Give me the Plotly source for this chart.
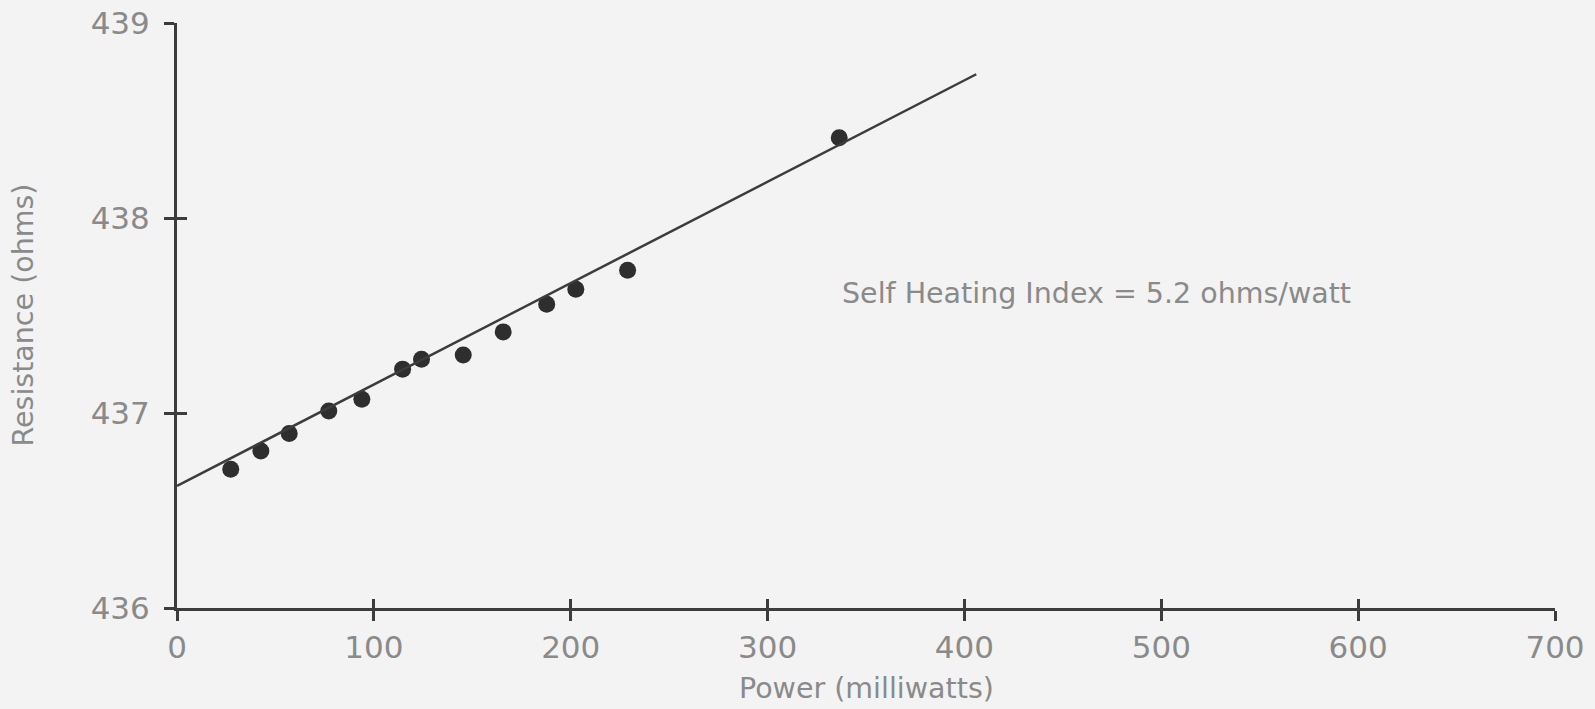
import plotly.graph_objects as go

# Measured resistance of the sensor versus dissipated power
power_mw = [27.3, 42.6, 57.0, 77.1, 93.9, 114.6, 124.2, 145.4, 165.7, 187.8, 202.6, 228.9, 336.4]
resistance_ohm = [436.711, 436.805, 436.895, 437.010, 437.070, 437.225, 437.276,
                  437.297, 437.416, 437.558, 437.635, 437.732, 438.411]

# Fit line: R = R0 + index * P
SELF_HEATING_INDEX = 5.2          # ohms per watt
R0 = 436.626                      # ohms at zero power
fit_power = [0, 406]
fit_resistance = [R0 + SELF_HEATING_INDEX * p / 1000.0 for p in fit_power]

x_ticks = [0, 100, 200, 300, 400, 500, 600, 700]
y_ticks = [436, 437, 438, 439]

X_TITLE = "Power (milliwatts)"
Y_TITLE = "Resistance (ohms)"

INK = "#3c3c3c"
TEXT = "#8a8a8a"
BG = "#f3f3f3"
FONT = "DejaVu Sans"

fig = go.Figure()

# fit line sits on the overlay axes so those axes (inner half of each cross tick) get drawn
fig.add_trace(go.Scatter(
    x=fit_power, y=fit_resistance, mode="lines", xaxis="x2", yaxis="y2",
    line=dict(color=INK, width=2.5), hoverinfo="skip", showlegend=False,
))
fig.add_trace(go.Scatter(
    x=power_mw, y=resistance_ohm, mode="markers",
    marker=dict(color="#2e2e2e", size=17, line=dict(width=0)),
    showlegend=False,
))

tick_font = dict(family=FONT, size=31, color=TEXT)
title_font = dict(family=FONT, size=28.5, color=TEXT)

fig.update_layout(
    width=1595, height=709,
    margin=dict(l=177, r=40, t=23, b=101, autoexpand=False),
    paper_bgcolor=BG, plot_bgcolor=BG,
    font=dict(family=FONT, color=TEXT),
    xaxis=dict(
        range=[0, 700], tickvals=x_ticks, ticktext=[str(v) for v in x_ticks],
        showgrid=False, zeroline=False, automargin=False,
        showline=True, linecolor=INK, linewidth=3,
        ticks="outside", ticklen=10, tickwidth=3, tickcolor=INK,
        tickfont=tick_font,
    ),
    yaxis=dict(
        range=[436, 439], tickvals=y_ticks, ticktext=[str(v) for v in y_ticks],
        showgrid=False, zeroline=False, automargin=False,
        showline=True, linecolor=INK, linewidth=3,
        ticks="outside", ticklen=10, tickwidth=3, tickcolor=INK,
        tickfont=tick_font, ticklabelstandoff=8,
    ),
    xaxis2=dict(
        range=[0, 700], tickvals=x_ticks, overlaying="x", anchor="y2", side="bottom",
        showticklabels=False, showgrid=False, zeroline=False, showline=False,
        ticks="inside", ticklen=9, tickwidth=3, tickcolor=INK, automargin=False,
    ),
    yaxis2=dict(
        range=[436, 439], tickvals=y_ticks, overlaying="y", anchor="x2", side="left",
        showticklabels=False, showgrid=False, zeroline=False, showline=False,
        ticks="inside", ticklen=10, tickwidth=3, tickcolor=INK, automargin=False,
    ),
    annotations=[
        dict(
            x=337, y=437.615, xref="x", yref="y", xanchor="left", yanchor="middle",
            text=f"Self Heating Index = {SELF_HEATING_INDEX} ohms/watt",
            showarrow=False, font=dict(family=FONT, size=28.5, color=TEXT),
        ),
        dict(
            x=0.5, y=0, xref="paper", yref="paper", xanchor="center", yanchor="middle",
            yshift=-80, text=X_TITLE, showarrow=False, font=title_font,
        ),
        dict(
            x=0, y=0.5, xref="paper", yref="paper", xanchor="center", yanchor="middle",
            xshift=-154, textangle=-90, text=Y_TITLE, showarrow=False, font=title_font,
        ),
    ],
)

fig.write_html("out.html")
